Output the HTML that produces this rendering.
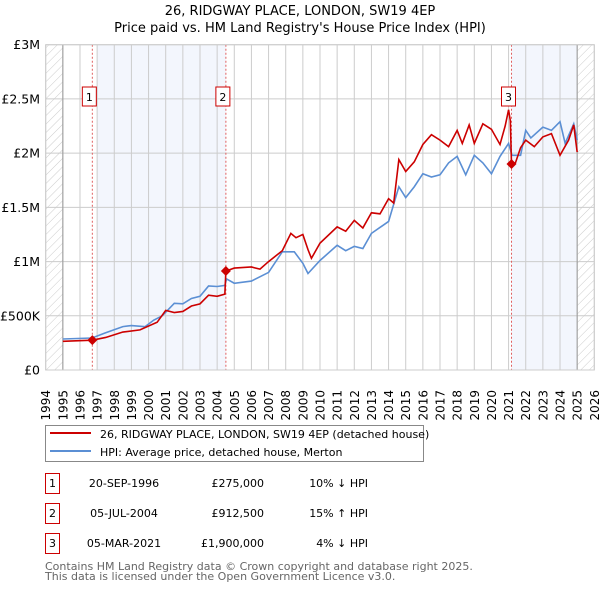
<!DOCTYPE html>
<html><head><meta charset="utf-8"><style>
body{margin:0;background:#fff;font-family:"Liberation Sans","DejaVu Sans",sans-serif;}
svg text{font-family:"DejaVu Sans","Liberation Sans",sans-serif;}
</style></head><body>
<svg id="c" width="600" height="590" xmlns="http://www.w3.org/2000/svg">
<defs><pattern id="hatch" patternUnits="userSpaceOnUse" width="6" height="6" patternTransform="rotate(45)"><line x1="0" y1="0" x2="0" y2="6" stroke="#ccc" stroke-width="1"/></pattern></defs>
<text x="300" y="15" text-anchor="middle" font-size="13" fill="#000">26, RIDGWAY PLACE, LONDON, SW19 4EP</text>
<text x="300" y="32" text-anchor="middle" font-size="13" fill="#000">Price paid vs. HM Land Registry's House Price Index (HPI)</text>
<g id="plot"></g>
<g>
<rect x="45.5" y="425.5" width="378" height="36" fill="#fff" stroke="#888"/>
<line x1="50" y1="433" x2="91" y2="433" stroke="#cc0000" stroke-width="2"/>
<text x="100" y="438" font-size="11">26, RIDGWAY PLACE, LONDON, SW19 4EP (detached house)</text>
<line x1="50" y1="451" x2="91" y2="451" stroke="#5b8fd4" stroke-width="2"/>
<text x="100" y="456" font-size="11">HPI: Average price, detached house, Merton</text>
</g>
<g id="tbl" font-size="11"></g>
<text x="45" y="570" font-size="11" fill="#666">Contains HM Land Registry data © Crown copyright and database right 2025.</text>
<text x="45" y="580" font-size="11" fill="#666">This data is licensed under the Open Government Licence v3.0.</text>
</svg>
<script>
const yTicks=[0,0.5,1,1.5,2,2.5,3];
const yTickLabels=["£0","£500K","£1M","£1.5M","£2M","£2.5M","£3M"];
const hpiYears=[1995,1996.7,1997.5,1998.5,1999,1999.8,2000.3,2000.8,2001.5,2002,2002.5,2003,2003.5,2004,2004.45,2004.55,2005,2006,2007,2007.8,2008.5,2009,2009.3,2010,2011,2011.5,2012,2012.5,2013,2014,2014.6,2015,2015.5,2016,2016.5,2017,2017.5,2018,2018.5,2019,2019.5,2020,2020.5,2021,2021.2,2021.7,2022,2022.3,2023,2023.5,2024,2024.3,2024.8,2025];
const hpiValues=[0.286,0.295,0.344,0.40,0.41,0.40,0.46,0.50,0.615,0.61,0.66,0.68,0.775,0.77,0.78,0.84,0.80,0.82,0.90,1.09,1.09,0.984,0.89,1.01,1.15,1.10,1.14,1.12,1.26,1.37,1.69,1.59,1.69,1.81,1.78,1.80,1.91,1.97,1.80,1.98,1.91,1.81,1.97,2.09,1.98,1.98,2.21,2.14,2.24,2.21,2.29,2.09,2.27,2.12];
const propYears=[1995,1996.72,1997.5,1998.5,1999.5,2000.5,2001,2001.5,2002,2002.5,2003,2003.5,2004,2004.45,2004.51,2005,2006,2006.5,2007,2007.8,2008.3,2008.6,2009,2009.3,2009.5,2010,2011,2011.5,2012,2012.5,2013,2013.5,2014,2014.3,2014.6,2015,2015.5,2016,2016.5,2017,2017.5,2018,2018.3,2018.7,2019,2019.5,2020,2020.5,2020.8,2021.0,2021.1,2021.17,2021.4,2021.7,2022,2022.5,2023,2023.5,2024,2024.5,2024.8,2025];
const propValues=[0.265,0.275,0.30,0.35,0.37,0.44,0.55,0.53,0.54,0.59,0.61,0.69,0.68,0.70,0.9125,0.94,0.95,0.93,1.00,1.10,1.26,1.22,1.25,1.11,1.03,1.17,1.32,1.28,1.38,1.31,1.45,1.44,1.58,1.54,1.94,1.83,1.92,2.08,2.17,2.12,2.06,2.21,2.09,2.26,2.09,2.27,2.22,2.08,2.25,2.40,2.30,1.90,1.91,2.05,2.12,2.06,2.15,2.18,1.98,2.12,2.26,2.01];
const saleNums=["1","2","3"];
const saleYears=[1996.72,2004.51,2021.17];
const saleValues=[0.275,0.9125,1.9];
const saleDates=["20-SEP-1996","05-JUL-2004","05-MAR-2021"];
const salePrices=["£275,000","£912,500","£1,900,000"];
const saleHpi=["10% ↓ HPI","15% ↑ HPI","4% ↓ HPI"];

const NS="http://www.w3.org/2000/svg";
const L=45.7,R=594.3,T=44.7,B=370;
const x=y=>L+(y-1994)*(R-L)/32;
const yv=v=>B-v*(B-T)/3;
function mk(tag,attrs,parent){const e=document.createElementNS(NS,tag);for(const k in attrs)e.setAttribute(k,attrs[k]);parent.appendChild(e);return e;}
const plot=document.getElementById('plot');
let e;
e=mk('rect',{x:x(1997),y:T,width:x(2004.51)-x(1997),height:B-T,fill:'#f3f6fd'},plot);


e=mk('rect',{x:x(2021.17),y:T,width:x(2025)-x(2021.17),height:B-T,fill:'#f3f6fd'},plot);


e=mk('rect',{x:L,y:T,width:x(1995)-L,height:B-T,fill:'url(#hatch)'},plot);


e=mk('rect',{x:x(2025),y:T,width:R-x(2025),height:B-T,fill:'url(#hatch)'},plot);


for(let yr=1994;yr<=2026;yr++){
  e=mk('line',{x1:x(yr),x2:x(yr),y1:T,y2:B,stroke:'#ccc','stroke-width':1},plot);
  
  
  e=mk('text',{x:0,y:0,transform:`translate(${x(yr)+4.5},${B+20}) rotate(-90)`,'text-anchor':'end','font-size':12,fill:'#000'},plot);
  e.textContent=yr;
  
  
}
yTicks.forEach((v,i)=>{
  e=mk('line',{x1:L,x2:R,y1:yv(v),y2:yv(v),stroke:'#ccc','stroke-width':1},plot);
  
  
  e=mk('text',{x:40,y:yv(v)+4.5,'text-anchor':'end','font-size':12.5},plot);
  e.textContent=yTickLabels[i];
  
  
});
e=mk('line',{x1:x(1995),x2:x(1995),y1:T,y2:B,stroke:'#999'},plot);


e=mk('line',{x1:x(2025),x2:x(2025),y1:T,y2:B,stroke:'#999'},plot);


saleYears.forEach((s,i)=>{
  e=mk('line',{x1:x(s),x2:x(s),y1:T,y2:B,stroke:'#e06060','stroke-dasharray':'2,2','stroke-width':1},plot);
  
  
});
e=mk('polyline',{points:hpiYears.map((y,i)=>x(y)+','+yv(hpiValues[i])).join(' '),fill:'none',stroke:'#5b8fd4','stroke-width':1.6},plot);


e=mk('polyline',{points:propYears.map((y,i)=>x(y)+','+yv(propValues[i])).join(' '),fill:'none',stroke:'#cc0000','stroke-width':1.6},plot);


saleYears.forEach((s,i)=>{
  const cx=x(s),cy=yv(saleValues[i]);
  e=mk('polygon',{points:`${cx},${cy-5} ${cx+5},${cy} ${cx},${cy+5} ${cx-5},${cy}`,fill:'#cc0000'},plot);
  
  
  const g=mk('g',{},plot);
  
  
  mk('rect',{x:cx-10,y:87,width:14,height:19,fill:'#fff',stroke:'#cc0000'},g);
  const t=mk('text',{x:cx-3,y:101,'text-anchor':'middle','font-size':11},g);
  t.textContent=saleNums[i];
});
e=mk('rect',{x:L,y:T,width:R-L,height:B-T,fill:'none',stroke:'#ccc'},plot);


const tbl=document.getElementById('tbl');
saleNums.forEach((n,i)=>{
  const cy=483+i*30;
  const g=mk('g',{},tbl);
  
  
  mk('rect',{x:45.5,y:cy-9.5,width:14,height:20,fill:'#fff',stroke:'#cc0000'},g);
  let t=mk('text',{x:52.5,y:cy+4,'text-anchor':'middle'},g);t.textContent=n;
  t=mk('text',{x:124,y:cy+4,'text-anchor':'middle'},g);t.textContent=saleDates[i];
  t=mk('text',{x:264,y:cy+4,'text-anchor':'end'},g);t.textContent=salePrices[i];
  t=mk('text',{x:368,y:cy+4,'text-anchor':'end'},g);t.textContent=saleHpi[i];
});
</script>
</body></html>
